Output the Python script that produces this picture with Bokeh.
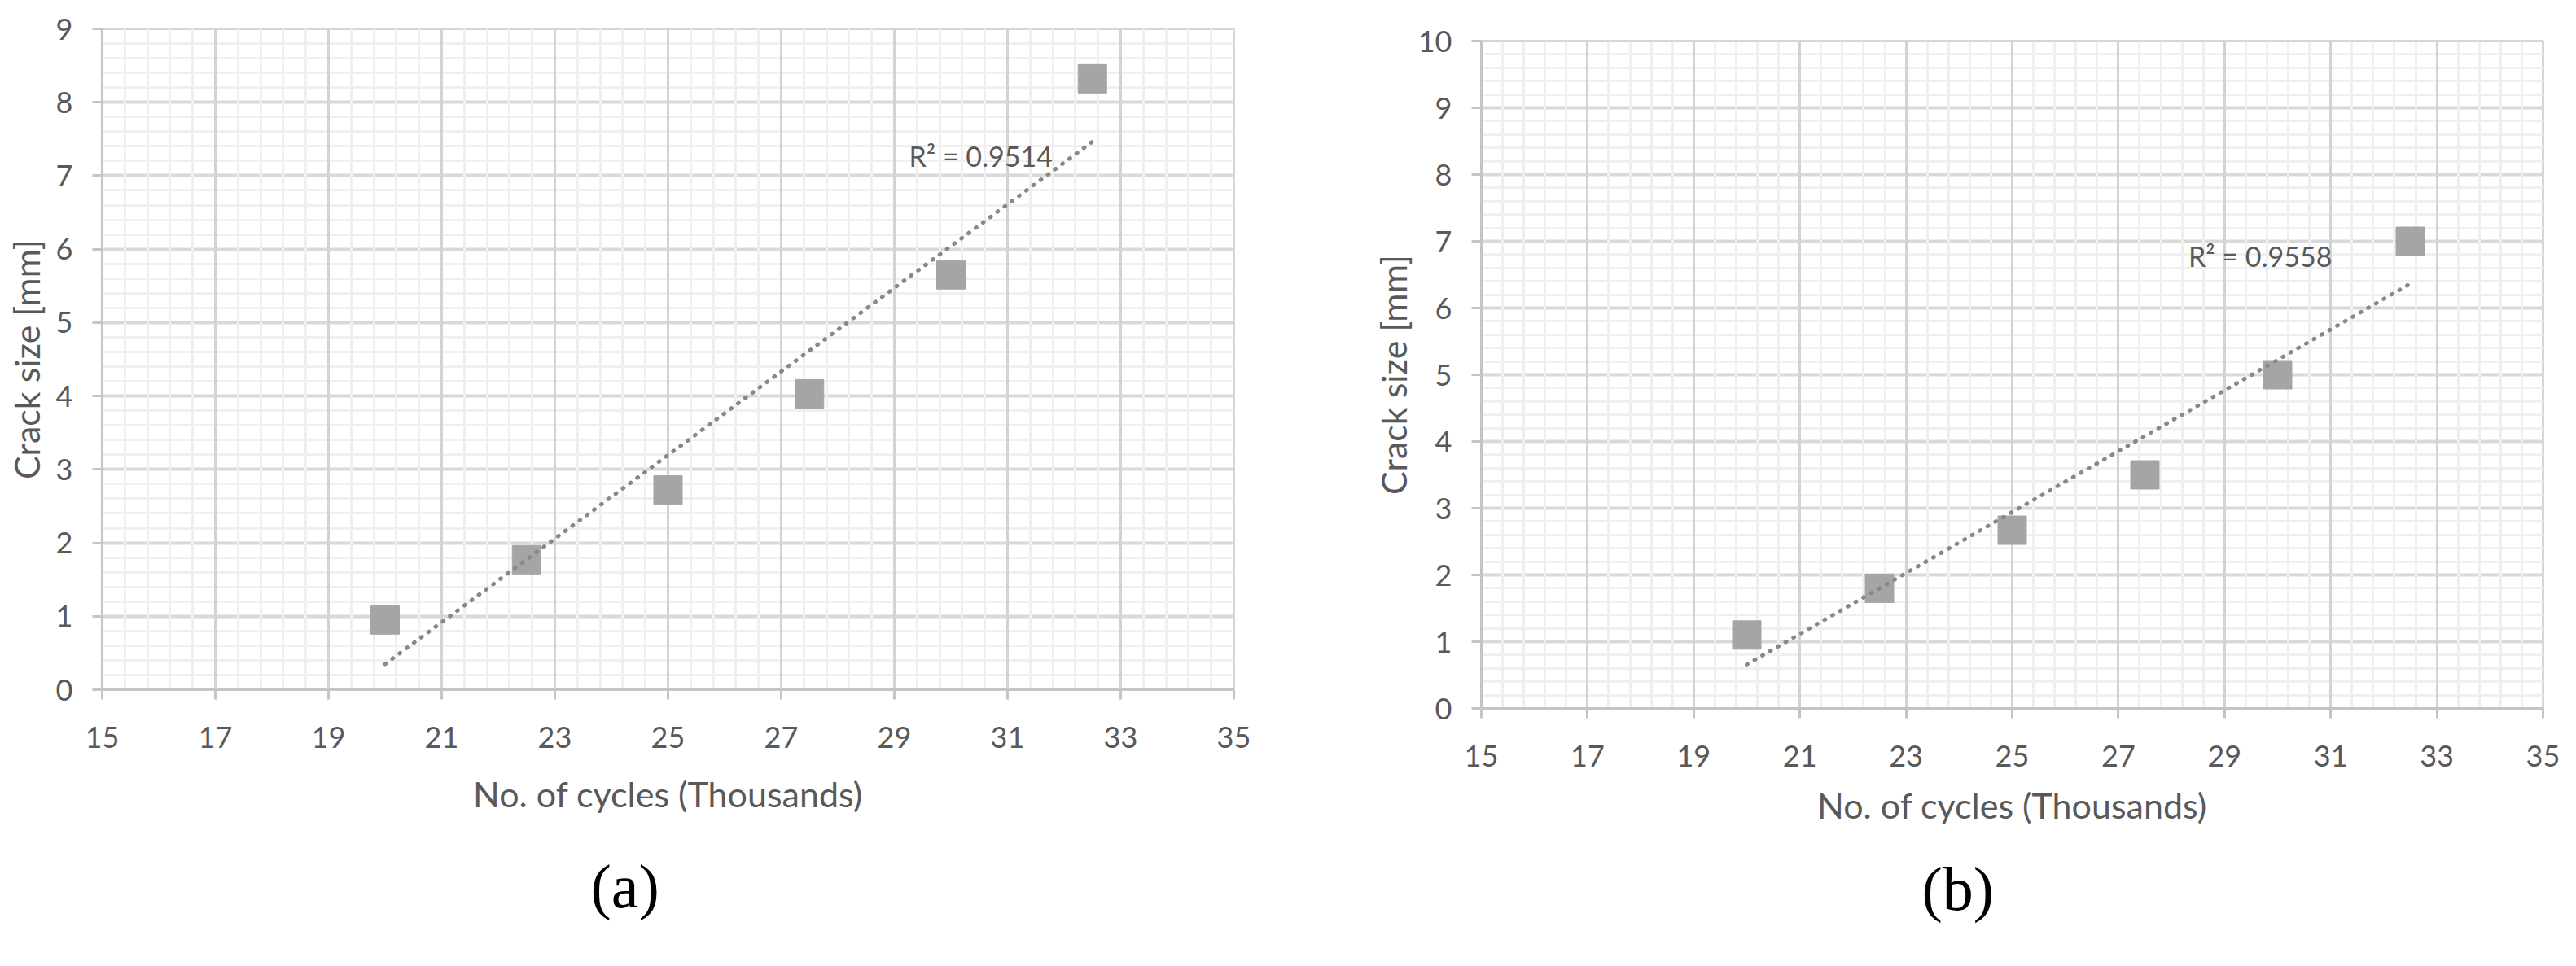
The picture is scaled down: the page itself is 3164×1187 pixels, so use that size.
import numpy as np
from bokeh.plotting import figure
from bokeh.models import Range1d, FixedTicker, Grid, LinearAxis, Label, Title
from bokeh.layouts import row
from bokeh.embed import file_html
from bokeh.resources import INLINE

# ---------------- data ----------------
cycles = [20, 22.5, 25, 27.5, 30, 32.5]          # thousands of cycles
crack_a = [0.95, 1.77, 2.72, 4.03, 5.65, 8.32]   # panel (a) crack size, mm
crack_b = [1.10, 1.80, 2.67, 3.50, 5.00, 7.00]   # panel (b) crack size, mm
r2_text_a = "R² = 0.9514"
r2_text_b = "R² = 0.9558"
x_title = "No. of cycles (Thousands)"
y_title = "Crack size [mm]"
x_ticks = [15, 17, 19, 21, 23, 25, 27, 29, 31, 33, 35]
y_ticks_a = [0, 1, 2, 3, 4, 5, 6, 7, 8, 9]
y_ticks_b = [0, 1, 2, 3, 4, 5, 6, 7, 8, 9, 10]
panel_a = "(a)"
panel_b = "(b)"

SANS = "Lato"
SERIF = "Liberation Serif"
TXT = "#595959"


def minor_between(ticks, n):
    out = []
    for a, b in zip(ticks[:-1], ticks[1:]):
        out.extend(list(np.linspace(a, b, n + 1)[1:-1]))
    return out


def make_panel(values, y_ticks, r2_text, r2_xy, letter, g):
    p = figure(frame_width=g["fw"], frame_height=g["fh"],
               x_range=Range1d(x_ticks[0], x_ticks[-1]),
               y_range=Range1d(y_ticks[0], y_ticks[-1]),
               x_axis_type=None, y_axis_type=None,
               output_backend="svg", toolbar_location=None,
               min_border_left=g["bl"], min_border_right=g["br"],
               min_border_top=g["bt"], min_border_bottom=g["bb"])
    p.frame_align = False
    p.background_fill_color = "white"
    p.border_fill_color = "white"
    p.outline_line_color = "#d6d6d6"
    p.outline_line_width = 3

    xt = FixedTicker(ticks=x_ticks, minor_ticks=minor_between(x_ticks, 5))
    yt = FixedTicker(ticks=y_ticks, minor_ticks=minor_between(y_ticks, 5))

    # grids: horizontal first, vertical drawn over them
    ygrid = Grid(dimension=1, ticker=yt,
                 grid_line_color="#d9d9d9", grid_line_width=4,
                 minor_grid_line_color="#f0f0f0", minor_grid_line_width=3)
    xgrid = Grid(dimension=0, ticker=xt,
                 grid_line_color="#d3d3d3", grid_line_width=3,
                 minor_grid_line_color="#efefef", minor_grid_line_width=3)
    p.add_layout(ygrid, "center")
    p.add_layout(xgrid, "center")

    def style(ax, standoff, lab_standoff):
        ax.axis_line_color = "#c4c4c4"
        ax.axis_line_width = 3
        ax.major_tick_line_color = "#c4c4c4"
        ax.major_tick_line_width = 3
        ax.major_tick_out = 12
        ax.major_tick_in = 0
        ax.minor_tick_out = 0
        ax.minor_tick_in = 0
        ax.major_label_text_font = SANS
        ax.major_label_text_font_size = "36px"
        ax.major_label_text_color = TXT
        ax.major_label_standoff = standoff
        ax.axis_label_text_font = SANS
        ax.axis_label_text_font_size = "43px"
        ax.axis_label_text_font_style = "normal"
        ax.axis_label_text_color = TXT
        ax.axis_label_standoff = lab_standoff

    xaxis = LinearAxis(ticker=xt, axis_label=x_title)
    style(xaxis, g["xts"], g["xls"])
    yaxis = LinearAxis(ticker=yt, axis_label=y_title)
    style(yaxis, 24, g["yls"])
    p.add_layout(xaxis, "below")
    p.add_layout(yaxis, "left")

    p.add_layout(Title(text=letter, align="left", offset=g["toff"],
                       standoff=g["tstand"], text_font=SERIF,
                       text_font_size="76px", text_font_style="normal",
                       text_color="black"), "below")

    p.scatter(cycles, values, marker="square", size=35,
              fill_color="#a5a5a5", line_color="#a5a5a5")

    coef = np.polyfit(cycles, values, 1)
    xs = [cycles[0], cycles[-1]]
    ys = list(np.polyval(coef, xs))
    p.line(xs, ys, line_color="#888888", line_width=5,
           line_dash="1 10", line_cap="round")

    p.add_layout(Label(x=r2_xy[0], y=r2_xy[1], text=r2_text,
                       text_font=SANS, text_font_size="34px",
                       text_color=TXT, text_align="left",
                       text_baseline="alphabetic"))
    return p


geom_a = dict(fw=1390, fh=812, bl=125, br=65, bt=35, bb=324,
              xts=33, xls=28, yls=8, toff=600, tstand=82)
geom_b = dict(fw=1304, fh=820, bl=239, br=25, bt=50, bb=301,
              xts=33, xls=19, yls=2, toff=541, tstand=60)

pa = make_panel(crack_a, y_ticks_a, r2_text_a, (29.26, 7.27), panel_a, geom_a)
pb = make_panel(crack_b, y_ticks_b, r2_text_b, (28.32, 6.78), panel_b, geom_b)

layout = row(pa, pb)
open("out.html", "w").write(file_html(layout, INLINE))
